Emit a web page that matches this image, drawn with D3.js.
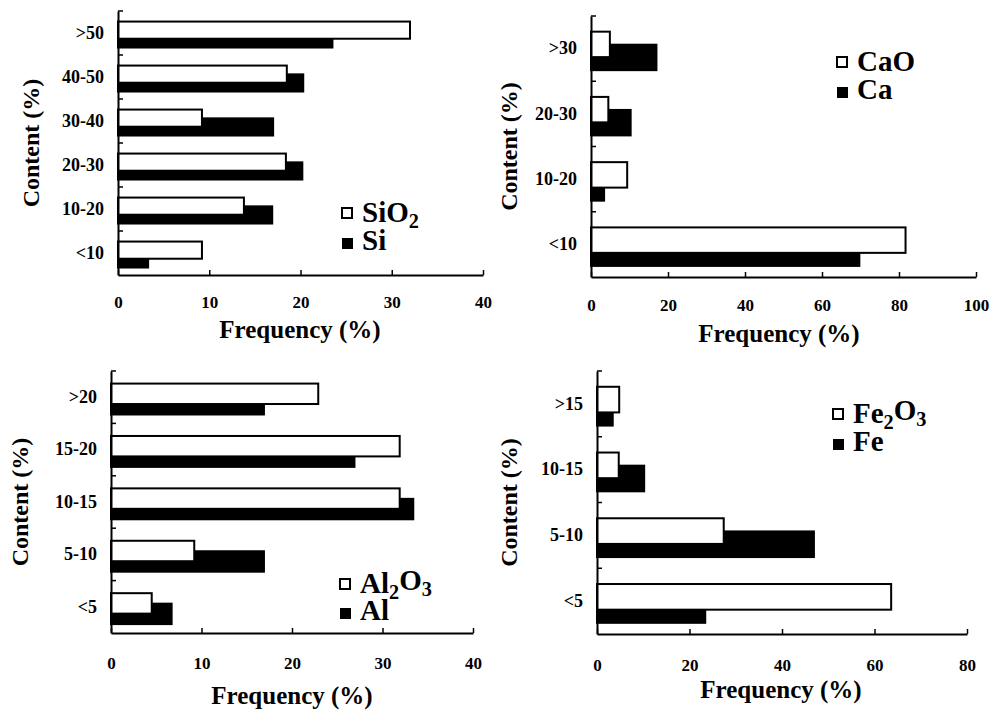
<!DOCTYPE html>
<html>
<head>
<meta charset="utf-8">
<script src="https://cdn.jsdelivr.net/npm/d3@7"></script>
<style>
	body { margin: 0; background: #fff; }
	svg { display: block; }
	svg text { font-family: "Liberation Serif", "DejaVu Serif", "Times New Roman", serif !important; font-weight: bold; fill: #000; }
</style>
</head>
<body>
<svg id="chart" width="990" height="713"></svg>
<script>
// categories are listed top to bottom, as in the picture
const siCategories = ['>50', '40-50', '30-40', '20-30', '10-20', '<10'];
const sio2Values = [32.0, 18.5, 9.2, 18.4, 13.8, 9.2];
const siValues = [23.5, 20.3, 17.0, 20.2, 16.9, 3.3];
const siTicks = [0, 10, 20, 30, 40];
const siLegend = ['SiO_2', 'Si'];

const caCategories = ['>30', '20-30', '10-20', '<10'];
const caoValues = [4.9, 4.5, 9.4, 81.7];
const caValues = [17.0, 10.3, 3.4, 69.7];
const caTicks = [0, 20, 40, 60, 80, 100];
const caLegend = ['CaO', 'Ca'];

const alCategories = ['>20', '15-20', '10-15', '5-10', '<5'];
const al2o3Values = [22.9, 31.9, 31.9, 9.2, 4.5];
const alValues = [16.9, 26.9, 33.4, 16.9, 6.7];
const alTicks = [0, 10, 20, 30, 40];
const alLegend = ['Al_2O_3', 'Al'];

const feCategories = ['>15', '10-15', '5-10', '<5'];
const fe2o3Values = [4.8, 4.7, 27.4, 63.6];
const feValues = [3.4, 10.2, 46.9, 23.4];
const feTicks = [0, 20, 40, 60, 80];
const feLegend = ['Fe_2O_3', 'Fe'];

const xTitle = 'Frequency (%)';
const yTitle = 'Content (%)';

const svg = d3.select('#chart');

// writes "Al_2O_3" style labels with subscripts
const writeFormula = function (text, label){
	label.split(/(_\d)/).filter(s => s.length).forEach(part => {
		if (part[0] === '_'){
			text.append('tspan').attr('font-size', '0.7em').attr('dy', '0.3em').text(part.slice(1));
		} else {
			const t = text.append('tspan').text(part);
			if (text.selectAll('tspan').size() > 1) t.attr('dy', '-0.3em');
		}
	});
};

/**
 * Draws one horizontal grouped bar panel
 */
const drawPanel = function (props){
	const g = svg.append('g');

	const x = d3.scaleLinear().domain([0, d3.max(props.ticks)]).range([props.x0, props.x1]);
	const y = d3.scaleBand().domain(props.categories).range([props.top, props.bottom]);
	const bw = y.bandwidth();

	// oxide bars sit on top of the element bars
	g.selectAll('rect.el')
		.data(props.categories)
		.enter()
		.append('rect')
		.attr('class', 'el')
		.attr('x', x(0))
		.attr('y', d => y(d) + bw * 0.44)
		.attr('width', (d, i) => x(props.element[i]) - x(0))
		.attr('height', bw * 0.39)
		.attr('fill', '#000')
		.attr('stroke', '#000')
		.attr('stroke-width', 2);

	g.selectAll('rect.ox')
		.data(props.categories)
		.enter()
		.append('rect')
		.attr('class', 'ox')
		.attr('x', x(0))
		.attr('y', d => y(d) + bw * 0.24)
		.attr('width', (d, i) => x(props.oxide[i]) - x(0))
		.attr('height', bw * 0.39)
		.attr('fill', '#fff')
		.attr('stroke', '#000')
		.attr('stroke-width', 2);

	// x axis, ticks pointing inward
	const gX = g.append('g')
		.attr('transform', `translate(0, ${props.bottom})`)
		.call(d3.axisBottom(x).tickValues(props.ticks).tickSizeInner(-5).tickSizeOuter(0).tickPadding(props.labelPad));
	gX.attr('font-family', null);
	gX.select('.domain').attr('stroke-width', 2);
	gX.selectAll('.tick line').attr('stroke-width', 1.5);
	gX.selectAll('.tick text').attr('font-size', 17);

	// y axis, labels centred in bands
	const gY = g.append('g')
		.attr('transform', `translate(${props.x0}, 0)`)
		.call(d3.axisLeft(y).tickSize(0).tickPadding(14));
	gY.attr('font-family', null);
	gY.select('.domain').attr('stroke-width', 2);
	gY.selectAll('.tick text').attr('font-size', 18);

	// small ticks at the band boundaries
	const bounds = props.categories.map(c => y(c));
	g.selectAll('line.bound')
		.data(bounds)
		.enter()
		.append('line')
		.attr('x1', props.x0).attr('x2', props.x0 + 5)
		.attr('y1', d => d).attr('y2', d => d)
		.attr('stroke', '#000')
		.attr('stroke-width', 1.5);

	// titles
	g.append('text')
		.attr('x', props.xTitleX)
		.attr('y', props.bottom + props.xTitleDy)
		.attr('text-anchor', 'middle')
		.attr('font-size', 25)
		.text(xTitle);

	g.append('text')
		.attr('transform', `translate(${props.yTitleX}, ${(props.top + props.bottom) / 2}) rotate(-90)`)
		.attr('text-anchor', 'middle')
		.attr('dy', '0.35em')
		.attr('font-size', 24)
		.text(yTitle);

	// legend
	const leg = g.append('g').attr('transform', `translate(${props.legend[0]}, ${props.legend[1]})`);
	leg.append('rect')
		.attr('x', -5).attr('y', -5).attr('width', 10).attr('height', 10)
		.attr('fill', '#fff').attr('stroke', '#000').attr('stroke-width', 2);
	leg.append('rect')
		.attr('x', -5).attr('y', props.legendGap - 5).attr('width', 11).attr('height', 11)
		.attr('fill', '#000');
	props.labels.forEach((lab, i) => {
		const t = leg.append('text')
			.attr('x', 15)
			.attr('y', i * (props.legendGap - 2) + 9)
			.attr('font-size', 29);
		writeFormula(t, lab);
	});

	return props;
};

drawPanel({categories: siCategories, oxide: sio2Values, element: siValues, ticks: siTicks, labels: siLegend,
	x0: 118, x1: 483, top: 11, bottom: 275, labelPad: 21, xTitleX: 300, xTitleDy: 63, yTitleX: 31, legend: [347, 213], legendGap: 30});

drawPanel({categories: caCategories, oxide: caoValues, element: caValues, ticks: caTicks, labels: caLegend,
	x0: 591, x1: 976, top: 16, bottom: 277, labelPad: 22, xTitleX: 779, xTitleDy: 65, yTitleX: 509, legend: [842, 62], legendGap: 30});

drawPanel({categories: alCategories, oxide: al2o3Values, element: alValues, ticks: alTicks, labels: alLegend,
	x0: 111, x1: 473, top: 371, bottom: 633, labelPad: 24, xTitleX: 292, xTitleDy: 71, yTitleX: 20, legend: [345, 584], legendGap: 29});

drawPanel({categories: feCategories, oxide: fe2o3Values, element: feValues, ticks: feTicks, labels: feLegend,
	x0: 597, x1: 967, top: 371, bottom: 634, labelPad: 25, xTitleX: 781, xTitleDy: 64, yTitleX: 509, legend: [838, 414], legendGap: 30});
</script>
</body>
</html>
